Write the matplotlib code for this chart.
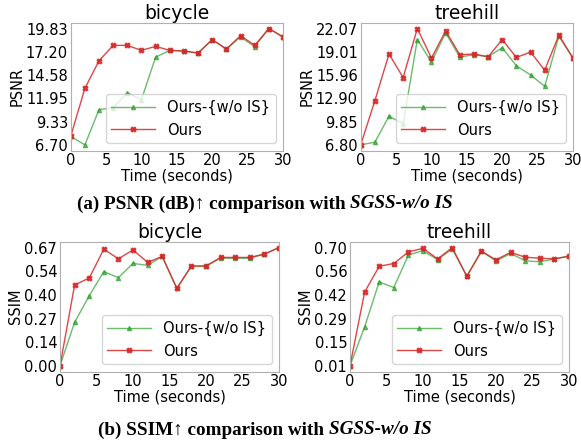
import numpy as np
import matplotlib
matplotlib.use("Agg")
import matplotlib.pyplot as plt

# ------------------------------------------------------------------
# data
time = [0, 2, 4, 6, 8, 10, 12, 14, 16, 18, 20, 22, 24, 26, 28, 30]

psnr_bicycle_ours = [7.65, 13.07, 16.19, 17.93, 17.93, 17.36, 17.82, 17.36,
                     17.29, 17.06, 18.58, 17.51, 19.03, 17.93, 19.83, 18.88]
psnr_bicycle_wois = [7.65, 6.70, 10.68, 10.87, 12.58, 11.82, 16.60, 17.36,
                     17.29, 17.06, 18.58, 17.51, 18.88, 17.78, 19.83, 18.88]

psnr_treehill_ours = [6.796, 12.58, 18.72, 15.63, 22.066, 18.19, 21.76, 18.63,
                      18.72, 18.36, 20.61, 18.27, 18.98, 16.60, 21.19, 18.19]
psnr_treehill_wois = [6.796, 7.15, 10.55, 9.58, 20.61, 17.66, 21.50, 18.32,
                      18.63, 18.36, 19.55, 17.17, 15.98, 14.48, 21.06, 18.19]

ssim_bicycle_ours = [0.001, 0.461, 0.501, 0.665, 0.610, 0.661, 0.590, 0.624,
                     0.442, 0.569, 0.569, 0.618, 0.618, 0.618, 0.637, 0.674]
ssim_bicycle_wois = [0.001, 0.249, 0.399, 0.537, 0.503, 0.584, 0.573, 0.624,
                     0.442, 0.569, 0.569, 0.614, 0.614, 0.614, 0.637, 0.674]

ssim_treehill_ours = [0.01, 0.440, 0.591, 0.607, 0.675, 0.696, 0.634, 0.700,
                      0.533, 0.679, 0.629, 0.672, 0.644, 0.638, 0.634, 0.650]
ssim_treehill_wois = [0.01, 0.237, 0.500, 0.467, 0.657, 0.682, 0.629, 0.693,
                      0.533, 0.679, 0.621, 0.666, 0.623, 0.617, 0.634, 0.650]

W, H = 581, 442
plt.rcParams["font.family"] = ["DejaVu Sans"]


def panel(rect, title, ylabel, ours, wois):
    ax = fig.add_axes(rect)
    ax.plot(time, wois, color="#2ca02c", marker="^", markersize=3, lw=1,
            alpha=0.7, label="Ours-{w/o IS}")
    ax.plot(time, ours, color="#d62728", marker="X", markersize=3.5, lw=1,
            alpha=0.85, label="Ours")
    lo = min(min(ours), min(wois))
    hi = max(max(ours), max(wois))
    ticks = np.linspace(lo, hi, 6)
    ax.set_yticks(ticks)
    ax.set_yticklabels([f"{t:.2f}" for t in ticks])
    ax.set_xlim(0, 30)
    ax.set_xticks([0, 5, 10, 15, 20, 25, 30])
    ax.tick_params(length=0, labelsize=10.5, pad=2)
    for s in ax.spines.values():
        s.set_color("#b0b0b0")
    ax.set_title(title, fontsize=13.5, pad=3)
    ax.set_xlabel("Time (seconds)", fontsize=10.5, labelpad=0)
    ax.set_ylabel(ylabel, fontsize=10.5, labelpad=1)
    ax.legend(loc="lower right", fontsize=10.5, handlelength=3)
    return ax


def rect(l, t, r, b):
    return [l / W, 1 - b / H, (r - l) / W, (b - t) / H]


fig = plt.figure(figsize=(W / 100, H / 100), dpi=100)

panel(rect(70.7, 22.7, 283, 150.7), "bicycle", "PSNR", psnr_bicycle_ours, psnr_bicycle_wois)
panel(rect(360.7, 22.7, 573, 150.7), "treehill", "PSNR", psnr_treehill_ours, psnr_treehill_wois)
panel(rect(60, 241.7, 279, 371.7), "bicycle", "SSIM", ssim_bicycle_ours, ssim_bicycle_wois)
panel(rect(350, 241.7, 569, 371.7), "treehill", "SSIM", ssim_treehill_ours, ssim_treehill_wois)


def caption(y, normal, italic, xc=265 / W):
    fam = ["Liberation Serif", "DejaVu Serif"]
    t1 = fig.text(0, y, normal, fontsize=13.8, fontweight="bold", family=fam, va="center")
    t2 = fig.text(0, y, italic, fontsize=13.8, fontweight="bold", style="italic",
                  family=fam, va="center")
    r = fig.canvas.get_renderer()
    w1 = t1.get_window_extent(r).width / W
    w2 = t2.get_window_extent(r).width / W
    x0 = xc - (w1 + w2) / 2
    t1.set_x(x0)
    t2.set_x(x0 + w1)


caption(1 - 204 / H, "(a) PSNR (dB)\u2191 comparison with ", "SGSS-w/o IS")
caption(1 - 430 / H, "(b) SSIM\u2191 comparison with ", "SGSS-w/o IS")

fig.savefig("out.png", dpi=100)
